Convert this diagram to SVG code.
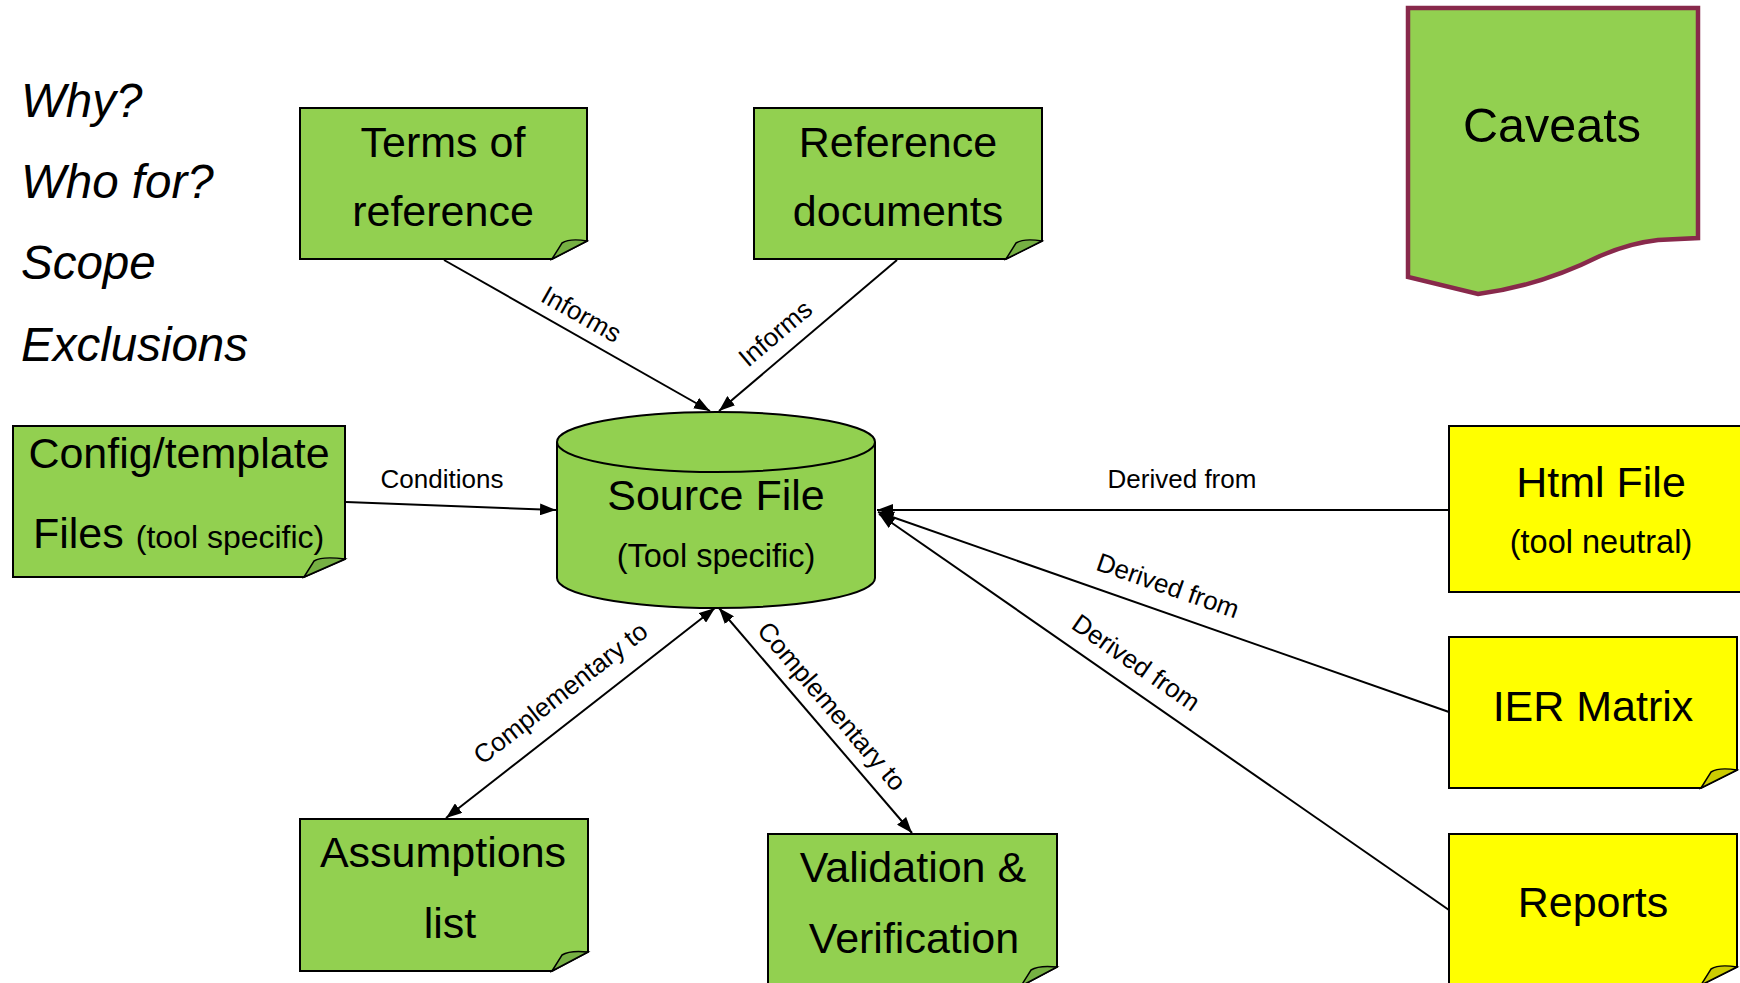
<svg xmlns="http://www.w3.org/2000/svg" width="1740" height="983" viewBox="0 0 1740 983">
<style>
  text { font-family: "Liberation Sans", Arial, sans-serif; fill: #000; }
  .main { font-size: 43px; text-anchor: middle; }
  .sub { font-size: 32.5px; text-anchor: middle; }
  .lbl { font-size: 26px; text-anchor: middle; }
  .q { font-size: 47.5px; font-style: italic; }
  .g { fill: #92D050; stroke: #000; stroke-width: 2; }
  .y { fill: #FFFF00; stroke: #000; stroke-width: 2; }
  .gc { fill: #76B043; stroke: #000; stroke-width: 1.5; }
  .yc { fill: #CCCC00; stroke: #000; stroke-width: 1.5; }
  .c { fill: none; stroke: #000; stroke-width: 2; }
</style>
<defs>
  <marker id="ah" viewBox="0 0 16 12" refX="16" refY="6" markerWidth="16" markerHeight="12" markerUnits="userSpaceOnUse" orient="auto-start-reverse">
    <path d="M0,0 L16,6 L0,12 Z" fill="#000"/>
  </marker>
</defs>
<rect width="1740" height="983" fill="#fff"/>

<g id="questions">
  <text class="q" x="21" y="117">Why?</text>
  <text class="q" x="21" y="198">Who for?</text>
  <text class="q" x="21" y="279">Scope</text>
  <text class="q" x="21" y="361">Exclusions</text>
</g>

<g id="connectors">
  <line class="c" x1="444" y1="260" x2="710" y2="411" marker-end="url(#ah)"/>
  <text class="lbl" transform="translate(577,322) rotate(29.6)">Informs</text>
  <line class="c" x1="897" y1="260" x2="719" y2="411" marker-end="url(#ah)"/>
  <text class="lbl" transform="translate(781,340) rotate(-40.3)">Informs</text>
  <line class="c" x1="346" y1="502" x2="556" y2="510" marker-end="url(#ah)"/>
  <text class="lbl" x="442" y="488">Conditions</text>
  <line class="c" x1="1449" y1="510" x2="877" y2="510" marker-end="url(#ah)"/>
  <text class="lbl" x="1182" y="488">Derived from</text>
  <line class="c" x1="1449" y1="712" x2="878" y2="512" marker-end="url(#ah)"/>
  <text class="lbl" transform="translate(1165,594) rotate(19.3)">Derived from</text>
  <line class="c" x1="1449" y1="910" x2="879" y2="514" marker-end="url(#ah)"/>
  <text class="lbl" transform="translate(1131,670) rotate(34.8)">Derived from</text>
  <line class="c" x1="446" y1="818" x2="715" y2="608" marker-start="url(#ah)" marker-end="url(#ah)"/>
  <text class="lbl" transform="translate(566,700) rotate(-38)">Complementary to</text>
  <line class="c" x1="719" y1="608" x2="912" y2="833" marker-start="url(#ah)" marker-end="url(#ah)"/>
  <text class="lbl" transform="translate(825,712) rotate(49.4)">Complementary to</text>
</g>

<g id="terms-of-reference">
  <path class="g" d="M300,108 H587 V241 L552,259 H300 Z"/>
  <path class="gc" d="M552,259 L562,243 Q570,238 587,241 Z"/>
  <text class="main" x="443" y="157">Terms of</text>
  <text class="main" x="443" y="226">reference</text>
</g>

<g id="reference-documents">
  <path class="g" d="M754,108 H1042 V241 L1006,259 H754 Z"/>
  <path class="gc" d="M1006,259 L1016,243 Q1024,238 1042,241 Z"/>
  <text class="main" x="898" y="157">Reference</text>
  <text class="main" x="898" y="226">documents</text>
</g>

<g id="caveats">
  <path d="M1408,8 H1698 V238 L1658,240 Q1630,243 1600,256 Q1540,286 1478,294 L1408,277 Z" fill="#92D050" stroke="#88294B" stroke-width="4.5"/>
  <text x="1552" y="142" font-size="48.5" text-anchor="middle">Caveats</text>
</g>

<g id="config-template">
  <path class="g" d="M13,426 H345 V559 L304,577 H13 Z"/>
  <path class="gc" d="M304,577 L314,561 Q322,556 345,559 Z"/>
  <text class="main" x="179" y="468">Config/template</text>
  <text x="33" y="548"><tspan font-size="43">Files </tspan><tspan font-size="32">(tool specific)</tspan></text>
</g>

<g id="source-file">
  <path class="g" d="M557,442 A159,30 0 0 1 875,442 V578 A159,30 0 0 1 557,578 Z"/>
  <path class="c" d="M557,442 A159,30 0 0 0 875,442"/>
  <text class="main" x="716" y="510">Source File</text>
  <text class="sub" x="716" y="567">(Tool specific)</text>
</g>

<g id="html-file">
  <rect class="y" x="1449" y="426" width="320" height="166"/>
  <text class="main" x="1601" y="497">Html File</text>
  <text class="sub" x="1601" y="553">(tool neutral)</text>
</g>

<g id="ier-matrix">
  <path class="y" d="M1449,637 H1737 V770 L1701,788 H1449 Z"/>
  <path class="yc" d="M1701,788 L1711,772 Q1719,767 1737,770 Z"/>
  <text class="main" x="1593" y="721">IER Matrix</text>
</g>

<g id="reports">
  <path class="y" d="M1449,834 H1737 V967 L1701,985 H1449 Z"/>
  <path class="yc" d="M1701,985 L1711,969 Q1719,964 1737,967 Z"/>
  <text class="main" x="1593" y="917">Reports</text>
</g>

<g id="assumptions-list">
  <path class="g" d="M300,819 H588 V952 L552,971 H300 Z"/>
  <path class="gc" d="M552,971 L562,955 Q570,950 588,952 Z"/>
  <text class="main" x="443" y="867">Assumptions</text>
  <text class="main" x="450" y="938">list</text>
</g>

<g id="validation-verification">
  <path class="g" d="M768,834 H1057 V967 L1021,986 H768 Z"/>
  <path class="gc" d="M1021,986 L1031,970 Q1039,965 1057,967 Z"/>
  <text class="main" x="913" y="882">Validation &amp;</text>
  <text class="main" x="914" y="953">Verification</text>
</g>
</svg>
